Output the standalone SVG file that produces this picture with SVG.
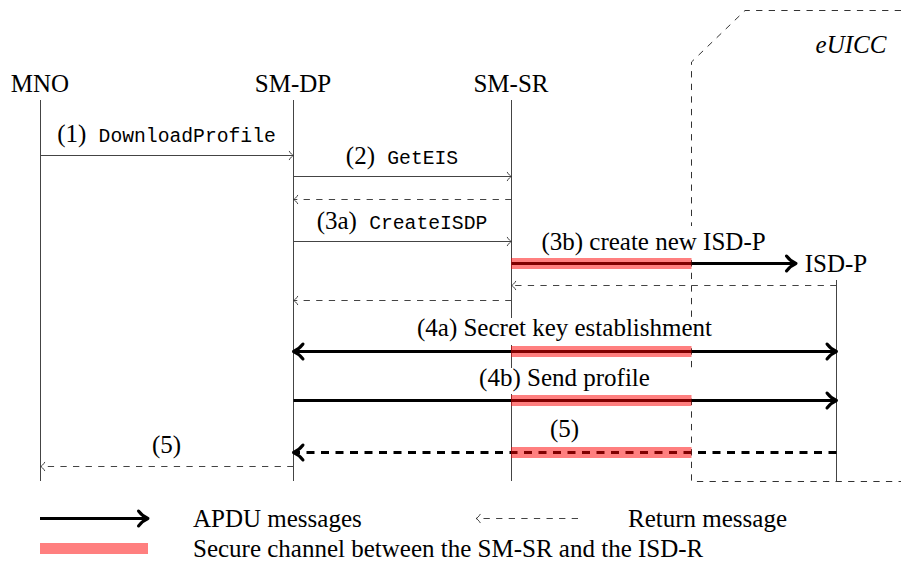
<svg xmlns="http://www.w3.org/2000/svg" width="901" height="572" viewBox="0 0 901 572">
  <style>
    text { font-family: "Liberation Serif", "Times New Roman", serif; font-size: 25px; fill: #000; }
    .tt { font-family: "Liberation Mono", "Courier New", monospace; font-size: 19.7px; }
    .it { font-style: italic; }
    .mid { text-anchor: middle; }
    .life { stroke: #444; stroke-width: 1; fill: none; }
    .frame { stroke: #333; stroke-width: 1; fill: none; stroke-dasharray: 6.3 6.3; }
    .msg { stroke: #444; stroke-width: 1; fill: none; }
    .ret { stroke: #444; stroke-width: 1; fill: none; stroke-dasharray: 6.3 6.3; }
    .apdu { stroke: #000; stroke-width: 3; fill: none; }
    .apdu-ret { stroke: #000; stroke-width: 3; fill: none; stroke-dasharray: 8 6.5; }
    .sc { stroke: #ff0000; stroke-opacity: 0.5; stroke-width: 11; fill: none; }
    .bg { fill: #fff; stroke: none; }
  </style>
  <defs>
    <marker id="to" markerUnits="userSpaceOnUse" viewBox="-8 -8 16 16" markerWidth="16" markerHeight="16" refX="0" refY="0" orient="auto-start-reverse" overflow="visible">
      <path d="M-4.2,-4.2 C-2.8,-1.8 -1,-0.4 0,0 C-1,0.4 -2.8,1.8 -4.2,4.2" fill="none" stroke="#333" stroke-width="0.9" stroke-linecap="round"/>
    </marker>
    <marker id="to-thick" markerUnits="userSpaceOnUse" viewBox="-14 -10 20 20" markerWidth="20" markerHeight="20" refX="0" refY="0" orient="auto-start-reverse" overflow="visible">
      <path d="M-9.5,-7.5 C-6.5,-3.5 -2.5,-1 0,0 C-2.5,1 -6.5,3.5 -9.5,7.5" fill="none" stroke="#000" stroke-width="3" stroke-linecap="round" stroke-linejoin="round"/>
    </marker>
  </defs>

  <!-- participants and their lifelines -->
  <g id="node-mno">
    <text class="mid" x="40" y="92">MNO</text>
    <line class="life" x1="40.5" y1="100" x2="40.5" y2="481"/>
  </g>
  <g id="node-smdp">
    <text class="mid" x="293" y="92">SM-DP</text>
    <line class="life" x1="293.5" y1="100" x2="293.5" y2="481"/>
  </g>
  <g id="node-smsr">
    <text class="mid" x="511" y="92">SM-SR</text>
    <line class="life" x1="511.5" y1="100" x2="511.5" y2="481"/>
  </g>
  <g id="node-euicc">
    <path class="frame" d="M901,10.5 H745 L691.5,62 V481.5 H901"/>
    <text class="it mid" x="851" y="53">eUICC</text>
  </g>
  <g id="node-isdp">
    <line class="life" x1="836.5" y1="280" x2="836.5" y2="481"/>
    <text class="mid" x="836" y="272">ISD-P</text>
  </g>

  <!-- message labels (white backing hides the lines behind them) -->
  <g id="labels">
    <text class="mid" x="166.5" y="142">(1) <tspan class="tt" dx="6">DownloadProfile</tspan></text>
    <text class="mid" x="402" y="163.5">(2) <tspan class="tt" dx="6">GetEIS</tspan></text>
    <text class="mid" x="402" y="228.5">(3a) <tspan class="tt" dx="6">CreateISDP</tspan></text>
    <rect class="bg" x="534" y="226" width="238" height="31"/>
    <text class="mid" x="653.5" y="249.5">(3b) create new ISD-P</text>
    <rect class="bg" x="410" y="318" width="312" height="27"/>
    <text class="mid" x="564.5" y="336">(4a) Secret key establishment</text>
    <rect class="bg" x="437" y="368" width="256" height="26"/>
    <text class="mid" x="564.5" y="386">(4b) Send profile</text>
    <text class="mid" x="564.5" y="436.5">(5)</text>
    <text class="mid" x="166.5" y="453">(5)</text>
  </g>

  <!-- connectors -->
  <g id="connectors">
    <path class="msg" d="M40.5,155.5 H293.5" marker-end="url(#to)"/>
    <path class="msg" d="M293.5,176.5 H511.5" marker-end="url(#to)"/>
    <path class="ret" d="M511.5,199.5 H293.5" marker-end="url(#to)"/>
    <path class="msg" d="M293.5,241.5 H511.5" marker-end="url(#to)"/>
    <path class="apdu" d="M511.5,263.5 H796" marker-end="url(#to-thick)"/>
    <path class="ret" d="M836.5,285.5 H511.5" marker-end="url(#to)"/>
    <path class="ret" d="M511.5,300.5 H293.5" marker-end="url(#to)"/>
    <path class="apdu" d="M293.5,351.5 H836.5" marker-start="url(#to-thick)" marker-end="url(#to-thick)"/>
    <path class="apdu" d="M293.5,400.5 H836.5" marker-end="url(#to-thick)"/>
    <path class="apdu-ret" d="M836.5,452.5 H293.5" marker-end="url(#to-thick)"/>
    <path class="ret" d="M293.5,466.5 H40.5" marker-end="url(#to)"/>
  </g>

  <!-- secure channel SM-SR to ISD-R -->
  <g id="secure-channel">
    <path class="sc" d="M511,263.5 H691.5"/>
    <path class="sc" d="M511,351.5 H691.5"/>
    <path class="sc" d="M511,400.5 H691.5"/>
    <path class="sc" d="M511,452.5 H691.5"/>
  </g>

  <!-- legend -->
  <g id="legend">
    <path class="apdu" d="M40,518.5 H148" marker-end="url(#to-thick)"/>
    <text x="193" y="527">APDU messages</text>
    <path class="ret" d="M578,518.5 H476" marker-end="url(#to)"/>
    <text x="628" y="527">Return message</text>
    <path class="sc" d="M40,548.5 H148"/>
    <text x="193" y="557">Secure channel between the SM-SR and the ISD-R</text>
  </g>
</svg>
